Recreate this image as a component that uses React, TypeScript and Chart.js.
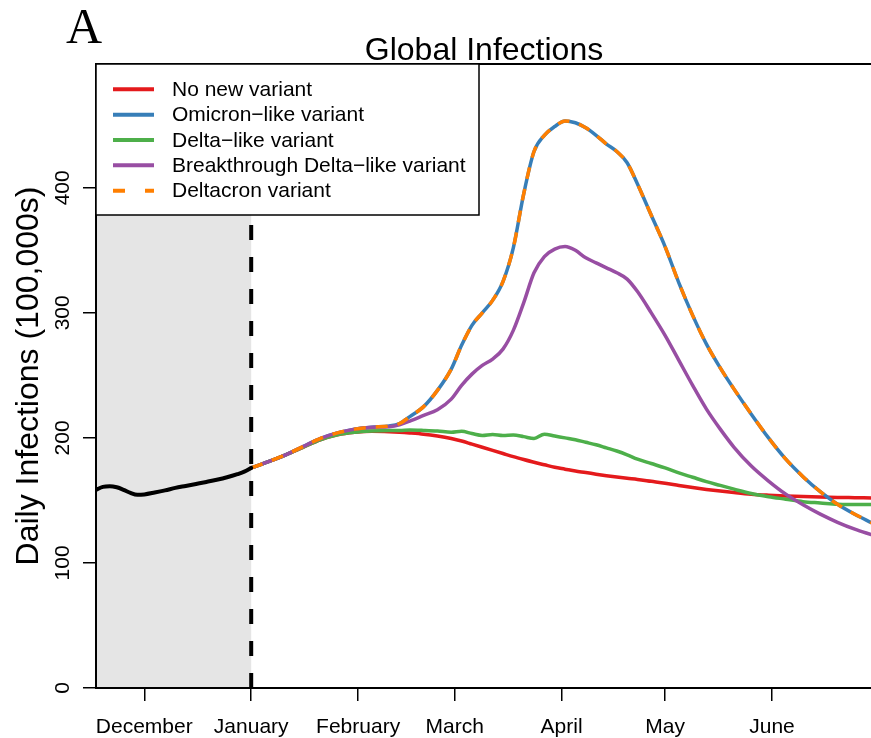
import React, { useEffect, useRef } from "react";
import { Chart, registerables } from "chart.js";

Chart.register(...registerables);

// ---- data (days relative to 1 January; values in 100,000s) ----
const monthTickDays = [-31, 0, 31, 59, 90, 120, 151];
const monthLabels = ["December", "January", "February", "March", "April", "May", "June"];
const yTickValues = [0, 100, 200, 300, 400];

const historyDays = [-45, -43, -41, -39, -37, -35, -33, -31, -28, -25, -22, -19, -16, -13, -10, -7, -4, -2, 0];
const historyValues = [158.5, 160.8, 161.3, 160.5, 158.5, 156, 154.5, 154.8, 156.3, 158, 160, 161.6, 163.2, 164.8, 166.5, 168.5, 171, 173, 176];

const projectionDays = [
  0, 5, 10, 15, 20, 25, 30, 35, 40,
  43, 46, 50, 54, 58, 61, 64, 67, 70, 73, 76, 79, 82, 85, 88, 91, 94, 97, 100, 103, 106, 109, 112,
  116, 120, 124, 128, 132, 136, 140,
  145, 150, 155, 160, 165, 170, 175, 180,
];

const noNewVariant = [
  176, 181, 186.5, 192.5, 198.5, 202.5, 204.5, 205.3, 205,
  204.6, 204, 203, 201.5, 199.5, 197.5, 195, 192.5, 190, 187.5, 185, 182.7, 180.5, 178.5, 176.5, 175, 173.5, 172.3, 171, 169.8, 168.7, 167.7, 166.8,
  165.3, 163.8, 162, 160.3, 158.8, 157.5, 156.3,
  155, 154.2, 153.6, 153.1, 152.7, 152.4, 152.2, 152,
];

const omicronLike = [
  176, 181, 186.5, 193, 199.5, 204, 207, 208.5, 209.5,
  211.5, 217, 225, 238, 255, 274, 290, 300, 310, 325, 352, 395, 429, 442, 449, 453.5, 452, 448, 442, 435, 429, 420, 403,
  378, 353, 324, 298, 275, 256, 239,
  219, 200, 183, 169, 157, 147, 139, 132,
];

const deltaLike = [
  176, 181, 186.5, 192.5, 198.5, 202.5, 204.5, 205.5, 206,
  206, 206.3, 206, 205.5, 204.5, 205.3, 203.5, 202, 202.8, 202, 202.3, 201, 199.5, 203, 201.5, 200, 198.5, 196.5, 194.5, 192, 189.5, 186.5, 183,
  179.5, 176, 172, 168.5, 165, 162, 159,
  155.5, 153, 151, 149, 148, 147, 146.8, 146.7,
];

const breakthroughDeltaLike = [
  176, 181, 186.5, 193, 199.5, 204, 207, 208.5, 209,
  210.5, 213.5, 218, 222.5, 231, 242, 251, 258, 263, 271, 286, 308, 332, 345, 351, 353, 350, 344, 340, 336, 332, 327, 317,
  300, 282, 262, 242, 223, 207, 192.5,
  177.5, 165.5, 155, 146.5, 139, 132.5, 127, 122.5,
];

const deltacron = [
  176, 181, 186.5, 193, 199.5, 204, 207, 208.5, 209.5,
  211.5, 217, 225, 238, 255, 274, 290, 300, 310, 325, 352, 395, 429, 442, 449, 453.5, 452, 448, 442, 435, 429, 420, 403,
  378, 353, 324, 298, 275, 256, 239,
  219, 200, 183, 169, 157, 147, 139, 132,
];

const legendLabels = [
  "No new variant",
  "Omicron\u2212like variant",
  "Delta\u2212like variant",
  "Breakthrough Delta\u2212like variant",
  "Deltacron variant",
];

// ---- styles ----
const RED = "#E41A1C";
const BLUE = "#377EB8";
const GREEN = "#4DAF4A";
const PURPLE = "#984EA3";
const ORANGE = "#FF7F00";
const legendColors = [RED, BLUE, GREEN, PURPLE, ORANGE];
const SANS = '"Liberation Sans", Arial, Helvetica, sans-serif';
const SERIF = '"Liberation Serif", "Times New Roman", serif';

function pairs(days: number[], values: number[]) {
  return days.map((d, i) => ({ x: d, y: values[i] }));
}

export default function App() {
  const ref = useRef<HTMLCanvasElement>(null);

  useEffect(() => {
    const canvas = ref.current;
    if (!canvas) return;

    const decor = {
      id: "decor",
      beforeDatasetsDraw(chart: any) {
        const { ctx, chartArea } = chart;
        const xs = chart.scales.x;
        const x0 = xs.getPixelForValue(historyDays[0]);
        const x1 = xs.getPixelForValue(0);
        ctx.save();
        ctx.fillStyle = "#E5E5E5";
        ctx.fillRect(x0, chartArea.top, x1 - x0, chartArea.bottom - chartArea.top);
        ctx.restore();
      },
      afterDraw(chart: any) {
        const { ctx, chartArea } = chart;
        const xs = chart.scales.x;
        const ys = chart.scales.y;
        ctx.save();

        // vertical dashed line at 1 January
        const xv = xs.getPixelForValue(0);
        ctx.strokeStyle = "#000";
        ctx.lineWidth = 4;
        ctx.setLineDash([15, 17]);
        ctx.lineCap = "butt";
        ctx.beginPath();
        ctx.moveTo(xv, chartArea.bottom);
        ctx.lineTo(xv, chartArea.top);
        ctx.stroke();
        ctx.setLineDash([]);

        // plot box
        ctx.lineWidth = 2;
        ctx.strokeStyle = "#000";
        ctx.strokeRect(chartArea.left, chartArea.top, chartArea.right - chartArea.left, chartArea.bottom - chartArea.top);

        // legend
        const lx = chartArea.left;
        const ly = chartArea.top;
        const lw = 383;
        const lh = 151;
        ctx.fillStyle = "#fff";
        ctx.fillRect(lx, ly, lw, lh);
        ctx.lineWidth = 1.5;
        ctx.strokeRect(lx, ly, lw, lh);
        ctx.font = `21px ${SANS}`;
        ctx.textAlign = "left";
        ctx.textBaseline = "middle";
        legendLabels.forEach((label, i) => {
          const ry = ly + 25.3 + i * 25.35;
          ctx.strokeStyle = legendColors[i];
          ctx.lineWidth = 4;
          ctx.lineCap = "butt";
          ctx.setLineDash(i === 4 ? [12, 20] : []);
          ctx.beginPath();
          ctx.moveTo(lx + 17, ry);
          ctx.lineTo(lx + 58, ry);
          ctx.stroke();
          ctx.setLineDash([]);
          ctx.fillStyle = "#000";
          ctx.fillText(label, lx + 76, ry + 1);
        });

        // x tick labels
        ctx.fillStyle = "#000";
        ctx.font = `21px ${SANS}`;
        ctx.textAlign = "center";
        ctx.textBaseline = "alphabetic";
        xs.ticks.forEach((t: any) => {
          const idx = monthTickDays.indexOf(t.value);
          if (idx < 0) return;
          ctx.fillText(monthLabels[idx], xs.getPixelForValue(t.value), 733);
        });

        // y tick labels (rotated, R style)
        ys.ticks.forEach((t: any) => {
          const py = ys.getPixelForValue(t.value);
          ctx.save();
          ctx.translate(69, py);
          ctx.rotate(-Math.PI / 2);
          ctx.textAlign = "center";
          ctx.textBaseline = "alphabetic";
          ctx.fillText(String(t.value), 0, 0);
          ctx.restore();
        });

        // y axis title
        ctx.save();
        ctx.font = `32px ${SANS}`;
        ctx.translate(38, (chartArea.top + chartArea.bottom) / 2);
        ctx.rotate(-Math.PI / 2);
        ctx.textAlign = "center";
        ctx.textBaseline = "alphabetic";
        ctx.fillText("Daily Infections (100,000s)", 0, 0);
        ctx.restore();

        // main title
        ctx.font = `32px ${SANS}`;
        ctx.textAlign = "center";
        ctx.textBaseline = "alphabetic";
        ctx.fillText("Global Infections", (chartArea.left + chartArea.right) / 2, 60);

        // panel letter
        ctx.font = `50px ${SERIF}`;
        ctx.textAlign = "left";
        ctx.fillText("A", 66, 43);

        ctx.restore();
      },
    };

    const lineBase = {
      pointRadius: 0,
      borderWidth: 3.5,
      fill: false,
      cubicInterpolationMode: "monotone" as const,
      borderJoinStyle: "round" as const,
      borderCapStyle: "round" as const,
    };

    const chart = new Chart(canvas, {
      type: "line",
      data: {
        datasets: [
          { ...lineBase, label: "history", data: pairs(historyDays, historyValues), borderColor: "#000", borderWidth: 4 },
          { ...lineBase, label: legendLabels[4], data: pairs(projectionDays, deltacron), borderColor: ORANGE, borderDash: [12, 10], borderCapStyle: "butt" as const },
          { ...lineBase, label: legendLabels[3], data: pairs(projectionDays, breakthroughDeltaLike), borderColor: PURPLE },
          { ...lineBase, label: legendLabels[2], data: pairs(projectionDays, deltaLike), borderColor: GREEN },
          { ...lineBase, label: legendLabels[1], data: pairs(projectionDays, omicronLike), borderColor: BLUE },
          { ...lineBase, label: legendLabels[0], data: pairs(projectionDays, noNewVariant), borderColor: RED },
        ],
      },
      options: {
        animation: false,
        responsive: false,
        devicePixelRatio: 1,
        layout: { padding: { top: 64, right: 8, left: 0, bottom: 0 } },
        plugins: {
          legend: { display: false },
          tooltip: { enabled: false },
          title: { display: false },
        },
        scales: {
          x: {
            type: "linear",
            min: historyDays[0],
            max: 180,
            afterBuildTicks: (s: any) => {
              s.ticks = monthTickDays.map((v) => ({ value: v }));
            },
            afterFit: (s: any) => {
              s.height = 50;
            },
            grid: { drawOnChartArea: false, drawTicks: true, tickLength: 13, color: "#000", lineWidth: 1.5 },
            border: { display: false },
            ticks: { display: false },
          },
          y: {
            type: "linear",
            min: 0,
            max: 499,
            afterBuildTicks: (s: any) => {
              s.ticks = yTickValues.map((v) => ({ value: v }));
            },
            afterFit: (s: any) => {
              s.width = 96;
            },
            grid: { drawOnChartArea: false, drawTicks: true, tickLength: 13, color: "#000", lineWidth: 1.5 },
            border: { display: false },
            ticks: { display: false },
          },
        },
      },
      plugins: [decor],
    });

    return () => chart.destroy();
  }, []);

  return (
    <div
      style={{
        position: "fixed",
        left: 0,
        top: 0,
        width: 871,
        height: 738,
        overflow: "hidden",
        background: "#fff",
      }}
    >
      <canvas ref={ref} width={880} height={738} style={{ display: "block", width: 880, height: 738 }} />
    </div>
  );
}
